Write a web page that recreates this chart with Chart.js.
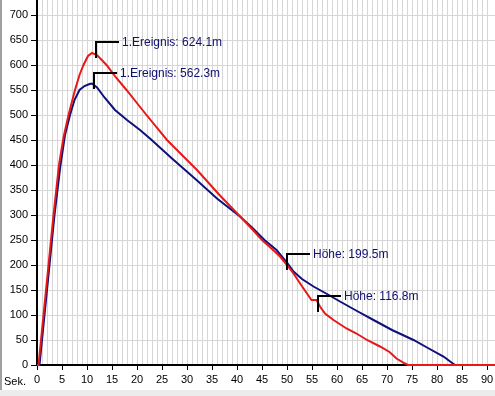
<!DOCTYPE html>
<html>
<head>
<meta charset="utf-8">
<script src="https://cdn.jsdelivr.net/npm/chart.js@4"></script>
<style>
  html, body { margin: 0; padding: 0; background: #fff; }
  #wrap { position: relative; width: 495px; height: 396px; overflow: hidden; }
  #edge { position: absolute; left: 0; top: 0; width: 2px; height: 390px; background: #a0a0a0; }
  #band { position: absolute; left: 0; top: 390px; width: 495px; height: 6px; background: #ececec; }
</style>
</head>
<body>
<div id="wrap">
  <canvas id="chart" width="495" height="396"></canvas>
  <div id="edge"></div>
  <div id="band"></div>
</div>
<script>
// Zeit (Sek.) und Höhe (m) - rote Kurve
const redTime = [0, 0.3, 1.3, 2.3, 3.3, 4.4, 5.3, 6.3, 7.6, 8.5, 9.3, 10.2, 11, 12, 13.9, 15.8, 17.9, 19.9, 21.9,
  26, 32, 36.5, 41.3, 43, 45, 47, 48.6, 50, 51.3, 53.3, 54.9, 55.9, 56.6, 57.6, 59.3, 61.9, 63.9, 66, 68.6, 70.5, 71.9, 73.6, 74.2, 91.6];
const redHeight = [0, 0, 100, 200, 300, 400, 455, 500, 550, 580, 600, 618, 624, 620, 600, 575, 550, 525, 500,
  450, 390, 340, 290, 272, 250, 232, 217, 200, 183, 153, 130, 130, 117, 103, 90, 73, 63, 50, 37, 26, 13, 3, 0, 0];

// blaue Kurve
const blueTime = [0, 0.5, 1.5, 2.5, 3.5, 4.7, 5.6, 6.6, 7.5, 8.5, 9.5, 10.5, 11, 12, 13.5, 15.6, 18, 20.6, 22.6,
  27, 31.9, 36, 40.6, 43, 45.5, 47.9, 50, 51.3, 53, 55.3, 58, 60.6, 64, 67.3, 71, 75.3, 78, 81.3, 82.9, 83.6, 91.6];
const blueHeight = [0, 0, 100, 200, 300, 400, 460, 500, 530, 550, 558, 562, 563, 555, 535, 510, 490, 470, 453,
  413, 370, 333, 297, 275, 250, 230, 205, 187, 172, 157, 142, 127, 108, 90, 70, 50, 35, 17, 5, 0, 0];

// Markierungen
const markTime = [11.7, 11.3, 50, 56.2];
const markHeight = [624.1, 562.3, 199.5, 116.8];
const markText = ['1.Ereignis: 624.1m', '1.Ereignis: 562.3m', 'Höhe: 199.5m', 'Höhe: 116.8m'];

const xMin = 0, xMax = 91.6, yMin = 0, yMax = 730;

function toPoints(ts, hs) {
  return ts.map((t, i) => ({ x: t, y: hs[i] }));
}

const markers = {
  id: 'markers',
  afterDatasetsDraw(chart) {
    const { ctx, scales: { x, y } } = chart;
    ctx.save();
    ctx.strokeStyle = '#000';
    ctx.lineWidth = 2;
    ctx.font = '12px "Liberation Sans", Arial, sans-serif';
    ctx.fillStyle = '#101070';
    ctx.textBaseline = 'middle';
    markTime.forEach((t, i) => {
      const px = Math.round(x.getPixelForValue(t));
      const py = Math.round(y.getPixelForValue(markHeight[i]));
      ctx.beginPath();
      ctx.moveTo(px, py + 5);
      ctx.lineTo(px, py - 11);
      ctx.lineTo(px + 23, py - 11);
      ctx.stroke();
      ctx.fillText(markText[i], px + 26, py - 10);
    });
    ctx.restore();
  }
};

const unitLabel = {
  id: 'unitLabel',
  afterDraw(chart) {
    const { ctx, chartArea } = chart;
    ctx.save();
    ctx.font = '11px "Liberation Sans", Arial, sans-serif';
    ctx.fillStyle = '#000';
    ctx.textBaseline = 'middle';
    ctx.fillText('Sek.', chartArea.left - 33, chartArea.bottom + 17);
    ctx.restore();
  }
};

function noPadding(scale) {
  scale.paddingTop = 0;
  scale.paddingBottom = 0;
  scale.paddingLeft = 0;
  scale.paddingRight = 0;
}

Chart.defaults.font.family = '"Liberation Sans", Arial, sans-serif';
Chart.defaults.font.size = 11;
Chart.defaults.color = '#000';

new Chart(document.getElementById('chart').getContext('2d'), {
  type: 'line',
  data: {
    datasets: [
      { label: 'rot', data: toPoints(redTime, redHeight), borderColor: '#e81818', borderWidth: 2, pointRadius: 0, tension: 0, clip: false },
      { label: 'blau', data: toPoints(blueTime, blueHeight), borderColor: '#10107a', borderWidth: 2, pointRadius: 0, tension: 0, clip: false }
    ]
  },
  options: {
    responsive: false,
    animation: false,
    layout: { padding: 0 },
    plugins: { legend: { display: false }, tooltip: { enabled: false } },
    scales: {
      x: {
        type: 'linear', min: xMin, max: xMax,
        afterFit(scale) { scale.height = 31; noPadding(scale); },
        border: { color: '#000', width: 2 },
        grid: {
          color: c => (c.tick && c.tick.value === xMax) ? 'transparent' : '#d6d6d6',
          tickColor: c => (c.tick && c.tick.value % 5 === 0) ? '#000' : 'transparent',
          tickLength: 5
        },
        ticks: {
          stepSize: 1, autoSkip: false, maxRotation: 0, minRotation: 0, padding: 3,
          callback: v => (v % 5 === 0 ? String(v) : '')
        }
      },
      y: {
        type: 'linear', min: yMin, max: yMax,
        afterFit(scale) { scale.width = 37; noPadding(scale); },
        border: { color: '#000', width: 2 },
        grid: {
          color: c => (c.tick && c.tick.value > 700) ? 'transparent' : '#d6d6d6',
          tickColor: c => (c.tick && c.tick.value > 700) ? 'transparent' : '#000',
          tickLength: 6
        },
        ticks: {
          stepSize: 50, padding: 3,
          callback: v => (v > 700 ? '' : String(v))
        }
      }
    }
  },
  plugins: [markers, unitLabel]
});
</script>
</body>
</html>
